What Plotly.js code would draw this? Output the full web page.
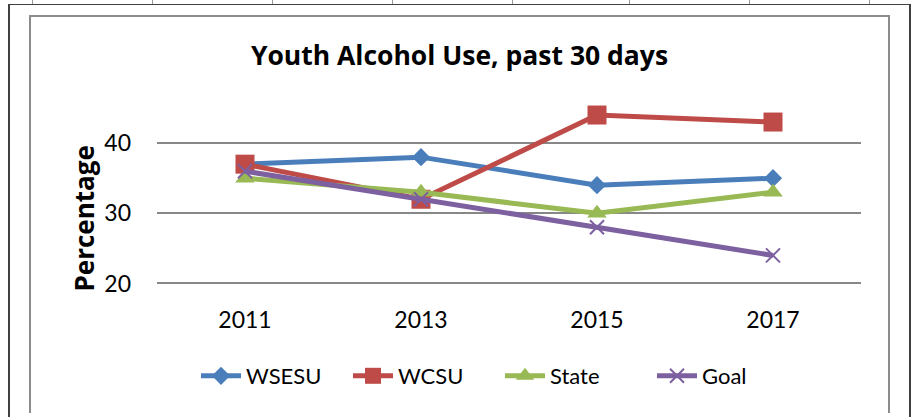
<!DOCTYPE html>
<html>
<head>
<meta charset="utf-8">
<script src="https://cdn.plot.ly/plotly-3.0.1.min.js"></script>
<style>
  html, body { margin: 0; padding: 0; background: #fff; }
  #wrap { position: relative; width: 912px; height: 417px; overflow: hidden; }
  #chart { position: absolute; left: 0; top: 0; width: 912px; height: 417px; }
  .ln { position: absolute; pointer-events: none; }
  .tk { position: absolute; top: 0; width: 1px; height: 4px; background: #9a9a9a; pointer-events: none; }
</style>
</head>
<body>
<div id="wrap">
  <div id="chart"></div>
  <!-- sheet cell marks above frame -->
  <div class="tk" style="left:32px;"></div>
  <div class="tk" style="left:152px;"></div>
  <div class="tk" style="left:272px;"></div>
  <div class="tk" style="left:392px;"></div>
  <div class="tk" style="left:512px;"></div>
  <div class="tk" style="left:629px;"></div>
  <div class="tk" style="left:749px;"></div>
  <div class="tk" style="left:869px;"></div>
  <!-- outer sheet frame -->
  <div class="ln" style="left:9px; top:4px; width:902px; height:1px; background:#404040;"></div>
  <div class="ln" style="left:8px; top:4px; width:2px; height:413px; background:#404040;"></div>
  <div class="ln" style="left:909px; top:4px; width:2px; height:413px; background:#404040;"></div>
  <!-- inner chart border -->
  <div class="ln" style="left:29px; top:15px; width:861px; height:2px; background:#8c8c8c;"></div>
  <div class="ln" style="left:29px; top:15px; width:2px; height:398px; background:#8c8c8c;"></div>
  <div class="ln" style="left:888px; top:15px; width:2px; height:398px; background:#8c8c8c;"></div>
</div>
<script>
const years = ['2011', '2013', '2015', '2017'];
const wsesu = [37, 38, 34, 35];
const wcsu  = [37, 32, 44, 43];
const state = [35, 33, 30, 33];
const goal  = [36, 32, 28, 24];
const seriesNames = ['WSESU', 'WCSU', 'State', 'Goal'];
const yTicks = [20, 30, 40];

const FONT = 'Lato, "Open Sans", sans-serif';
const BOLD = '"Open Sans", Lato, sans-serif';

function trace(name, y, color, symbol, size, extra) {
  return Object.assign({
    type: 'scatter', mode: 'lines+markers', name: name, x: years, y: y,
    line: { color: color, width: 5 },
    marker: { color: color, symbol: symbol, size: size },
    cliponaxis: false
  }, extra || {});
}

const data = [
  trace(seriesNames[0], wsesu, '#4A7EBB', 'diamond', 14),
  trace(seriesNames[1], wcsu, '#BE4B48', 'square', 19),
  trace(seriesNames[2], state, '#98B954', 'triangle-up', 17),
  trace(seriesNames[3], goal, '#7D60A0', 'x-thin-open', 14, {
    marker: { color: '#7D60A0', symbol: 'x-thin-open', size: 14, line: { color: '#7D60A0', width: 2 } }
  })
];

const layout = {
  width: 912, height: 417,
  margin: { l: 157, r: 51, t: 108, b: 130, pad: 0 },
  paper_bgcolor: '#ffffff', plot_bgcolor: '#ffffff',
  font: { family: FONT, size: 22, color: '#000' },
  title: {
    text: 'Youth Alcohol Use, past 30 days',
    font: { family: BOLD, size: 26.5, weight: 'bold', color: '#000' },
    xref: 'container', yref: 'container',
    x: 459.5 / 912, xanchor: 'center',
    y: 1 - 56 / 417, yanchor: 'middle'
  },
  xaxis: {
    type: 'category', categoryorder: 'array', categoryarray: years,
    range: [-0.5, 3.5], showgrid: false, zeroline: false, showline: false,
    ticks: '', ticklabelstandoff: 17, fixedrange: true,
    tickfont: { family: FONT, size: 23, color: '#000' }
  },
  yaxis: {
    range: [19.5, 45], tickvals: yTicks, ticktext: yTicks.map(String),
    showgrid: true, gridcolor: '#878787', gridwidth: 2,
    zeroline: false, showline: false, ticks: '', ticklabelstandoff: 25,
    tickfont: { family: FONT, size: 23, color: '#000' }, fixedrange: true
  },
  annotations: [{
    text: '<b>Percentage</b>', textangle: -90,
    xref: 'paper', yref: 'paper',
    x: (83 - 157) / 704, y: (287 - 218.5) / 179,
    xanchor: 'center', yanchor: 'middle', showarrow: false,
    font: { family: BOLD, size: 26, color: '#000' }
  }],
  showlegend: true,
  legend: {
    orientation: 'h', xref: 'container', yref: 'container',
    x: 500 / 912, xanchor: 'center', y: 1 - 376 / 417, yanchor: 'middle',
    font: { family: FONT, size: 22, color: '#000' },
    bgcolor: 'rgba(0,0,0,0)', itemwidth: 40, tracegroupgap: 0,
    entrywidth: 97, entrywidthmode: 'pixels'
  }
};

Plotly.newPlot('chart', data, layout, { displayModeBar: false, staticPlot: true });
</script>
</body>
</html>
